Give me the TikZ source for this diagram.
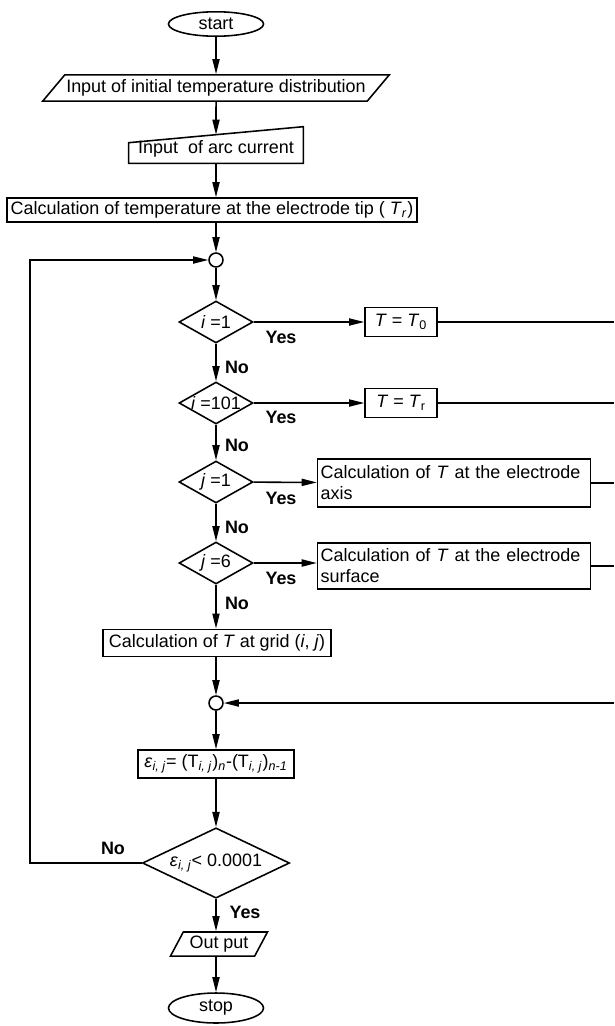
\documentclass[tikz,border=0pt]{standalone}
\usepackage{fontspec}
\setmainfont{Liberation Sans}
\usetikzlibrary{arrows.meta,shapes.geometric,calc}
\tikzset{terminal/.style={ellipse,draw,line width=1pt,minimum width=2.14cm,minimum height=0.55cm,inner sep=1pt},io/.style={trapezium,trapezium left angle=50,trapezium right angle=130,draw,line width=1pt,inner xsep=1pt,inner ysep=3pt},process/.style={rectangle,draw,line width=1pt,inner sep=2pt},decision/.style={diamond,draw,line width=1pt,inner sep=0pt,aspect=1.76,minimum width=1.665cm,minimum height=0.945cm},junction/.style={circle,draw,line width=1pt,minimum size=0.315cm,inner sep=0pt},flow edge/.style={-{Triangle[length=3.4mm,width=1.6mm]},line width=1pt},plain edge/.style={line width=1pt},branch label/.style={font=\fontsize{11.5}{13.5}\selectfont\bfseries}}

\begin{document}
\begin{tikzpicture}[x=0.0225cm,y=-0.0225cm,font=\fontsize{11.5}{13.5}\selectfont]
 \useasboundingbox (0,0) rectangle (614,1026);
 \node[terminal] (start) at (216,24) {start};
 \node[io] (initial) at (216,88) {Input of initial temperature distribution};
 \node[minimum width=3.915cm,minimum height=0.63cm,inner sep=0pt] (arc) at (216,149) {Input\ \ of arc current};
 \draw[line width=1pt] (arc.south west) -- (arc.south east) -- ([yshift=0.18cm]arc.north east) -- ([yshift=-0.18cm]arc.north west) -- cycle;
 \node[process,minimum width=9.225cm,minimum height=0.54cm,inner sep=1pt] (tip) at (212,210) {Calculation of temperature at the electrode tip ( \textit{T}\textsubscript{\textit{r}})};
 \node[junction] (j1) at (216,260) {};
 \node[decision] (d1) at (216,322) {\textit{i} =1};
 \node[decision] (d2) at (216,403) {\textit{i} =101};
 \node[decision] (d3) at (216,482) {\textit{j} =1};
 \node[decision] (d4) at (216,563) {\textit{j} =6};
 \node[process,minimum width=1.62cm,minimum height=0.65cm] (t0) at (401,322) {\textit{T} = \textit{T}\textsubscript{0}};
 \node[process,minimum width=1.62cm,minimum height=0.65cm] (tr) at (401,403) {\textit{T} = \textit{T}\textsubscript{r}};
 \node[process,minimum width=6.12cm,minimum height=1.08cm,align=left,text width=6.0cm] (axis) at (454,483) {Calculation of \textit{T} at the electrode\\axis};
 \node[process,minimum width=6.12cm,minimum height=1.04cm,align=left,text width=6.0cm] (surf) at (454,566) {Calculation of \textit{T} at the electrode\\surface};
 \node[process,minimum width=5.13cm,minimum height=0.61cm] (grid) at (217,643) {Calculation of \textit{T} at grid (\textit{i}, \textit{j})};
 \node[junction] (j2) at (216,703) {};
 \node[process,minimum width=3.5cm,minimum height=0.63cm,inner sep=1pt] (err) at (216,764) {\textit{ε}\textsubscript{\textit{i, j}}= (T\textsubscript{\textit{i, j}})\textsubscript{\textit{n}}-(T\textsubscript{\textit{i, j}})\textsubscript{\textit{n-1}}};
 \node[decision,minimum width=3.31cm,minimum height=1.395cm] (conv) at (216,863) {\textit{ε}\textsubscript{\textit{i, j}}< 0.0001};
 \node[io,trapezium left angle=62,trapezium right angle=118,inner xsep=4pt,inner ysep=2.5pt] (out) at (219,944) {Out put};
 \node[terminal,minimum height=0.675cm] (stop) at (216,1008) {stop};
 \coordinate (loop) at (30,863);
 \foreach \n/\yy in {1/322,2/403,3/483,4/566} \coordinate (edge\n) at (614,\yy);
 \coordinate (edge5) at (614,703);
 \draw[flow edge] (start) -- (initial);
 \draw[flow edge] (initial) -- (arc);
 \draw[flow edge] (arc) -- (arc |- tip.north);
 \draw[flow edge] (tip.south -| j1) -- (j1);
 \draw[flow edge] (j1) -- (d1);
 \draw[flow edge] (d1) -- (d2);
 \draw[flow edge] (d2) -- (d3);
 \draw[flow edge] (d3) -- (d4);
 \draw[flow edge] (d4) -- (d4 |- grid.north);
 \draw[flow edge] (d1) -- (t0);
 \draw[flow edge] (d2) -- (tr);
 \draw[flow edge] (d3) -- (axis);
 \draw[flow edge] (d4) -- (surf.west |- d4);
 \draw[plain edge] (t0) -- (edge1);
 \draw[plain edge] (tr) -- (edge2);
 \draw[plain edge] (axis) -- (edge3);
 \draw[plain edge] (surf) -- (edge4);
 \draw[flow edge] (edge5) -- (j2);
 \draw[flow edge] (grid.south -| j2) -- (j2);
 \draw[flow edge] (j2) -- (err);
 \draw[flow edge] (err) -- (conv);
 \draw[flow edge] (conv) -- (conv |- out.north);
 \draw[flow edge] (out.south -| stop) -- (stop);
 \draw[flow edge] (conv.west) -- (loop) |- (j1.west);
 \foreach \n/\yy in {1/337,2/417,3/498,4/578} \node[branch label] (yes\n) at (281,\yy) {Yes};
 \foreach \n/\yy in {1/367,2/445,3/527,4/603} \node[branch label] (no\n) at (237,\yy) {No};
 \node[branch label] (no5) at (113,848) {No};
 \node[branch label] (yes5) at (245,912) {Yes};
\end{tikzpicture}
\end{document}
